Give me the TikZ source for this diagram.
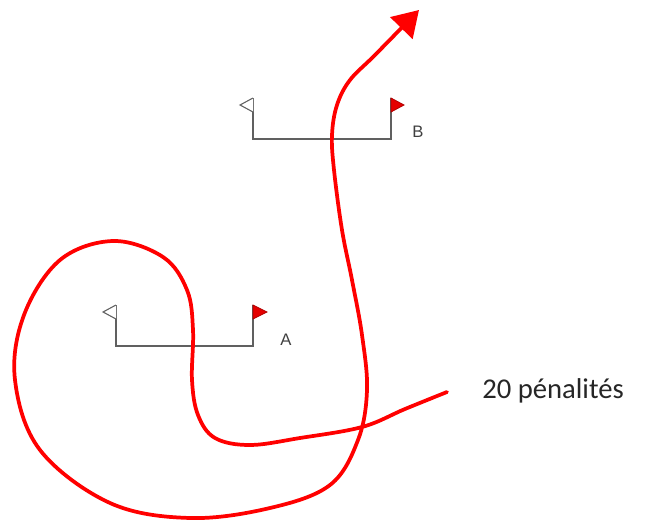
\documentclass[tikz,border=0pt]{standalone}
\usepackage{fontspec}
\setmainfont{Liberation Sans}
\newfontfamily\calibri{Carlito}
\usetikzlibrary{arrows.meta}

\begin{document}
\begin{tikzpicture}[
  x=0.75pt, y=-0.75pt,
  post/.style={draw=gray!75!black, line width=1.1pt},
  openflag/.style={draw=gray!75!black, fill=white, line width=0.8pt},
  redflag/.style={draw=red!70!black, fill=red!90!black, line width=0.6pt},
  gatelabel/.style={font=\fontsize{12.5}{14}\selectfont, text=black!75, inner sep=0pt},
  penalty/.style={font=\calibri\fontsize{21.5}{24}\selectfont, text=black!85, inner sep=0pt, anchor=base west},
  route/.style={draw=red, line width=2.8pt, line cap=round,
    -{Triangle[length=19pt, width=23pt]}}
]
\useasboundingbox (0,0) rectangle (646,521);

% gate A
\coordinate (aL) at (116,346);
\coordinate (aR) at (253,346);
\draw[post] (116,305) -- (aL) -- (aR) -- (253,305);
\draw[openflag] (116,305) -- (103,312) -- (116,319);
\draw[redflag] (253,305) -- (267,312) -- (253,319) -- cycle;
\node[gatelabel] (labA) at (286,340) {A};

% gate B
\coordinate (bL) at (253,139);
\coordinate (bR) at (391,139);
\draw[post] (253,98) -- (bL) -- (bR) -- (391,98);
\draw[openflag] (253,98) -- (240,105) -- (253,112);
\draw[redflag] (391,98) -- (404,105) -- (391,112) -- cycle;
\node[gatelabel] (labB) at (418,132) {B};

% penalty loop
\draw[route] plot[smooth, tension=0.6] coordinates {
  (447,392) (405,409) (362,427) (300,438) (250,445) (215,438) (198,415)
  (192,380) (193,330) (187,290) (163,257) (113,241) (60,260) (24,315)
  (15,380) (40,450) (110,503) (190,518) (270,508) (330,485) (358,440)
  (367,390) (362,335) (352,280) (342,230) (334,170) (332,135) (337,105)
  (350,80) (375,55) (419,10)};

\node[penalty] (pen) at (482,398) {20 pénalités};

\end{tikzpicture}
\end{document}
